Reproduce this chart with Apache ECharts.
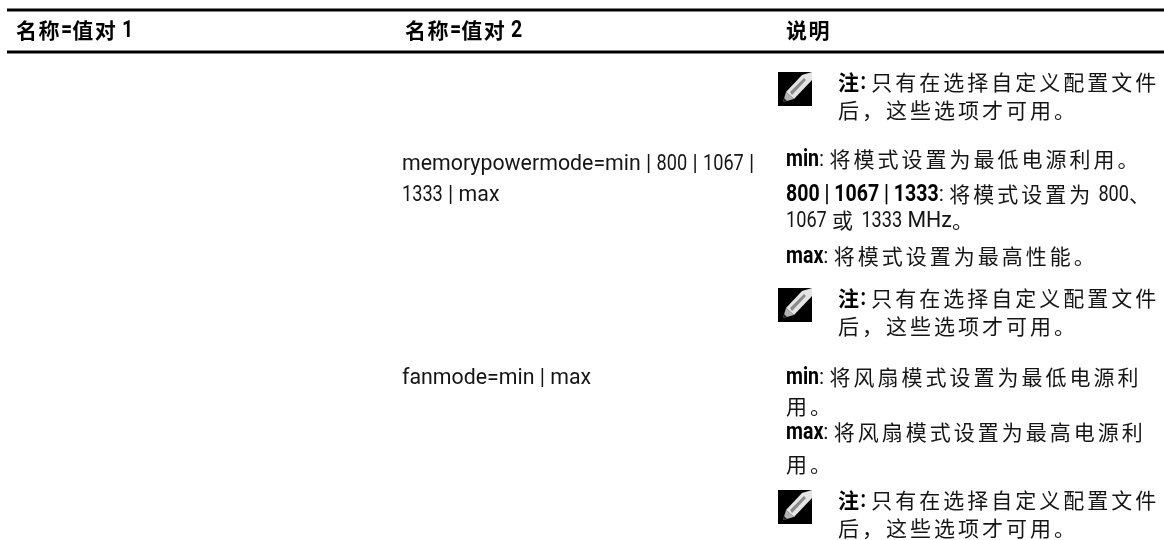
<!DOCTYPE html>
<html><head><meta charset="utf-8">
<style>html,body{margin:0;padding:0;background:#fff}#c{width:1164px;height:540px}</style>
<script src="https://cdn.jsdelivr.net/npm/echarts@6/dist/echarts.min.js"></script></head>
<body><div id="c"></div>
<script>
const headers = ['名称=值对 1', '名称=值对 2', '说明'];
const pair2Lines = ['memorypowermode=min | 800 | 1067 |', '1333 | max', 'fanmode=min | max'];
const noteLines = ['[注:] 只有在选择自定义配置文件', '后，这些选项才可用。'];
const descLines = [
  '[min]: 将模式设置为最低电源利用。',
  '[800 | 1067 | 1333]: 将模式设置为 800、',
  '1067 或 1333 MHz。',
  '[max]: 将模式设置为最高性能。',
  '[min]: 将风扇模式设置为最低电源利',
  '用。',
  '[max]: 将风扇模式设置为最高电源利',
  '用。'
];

const LATIN='Roboto', CJK='"Noto Sans CJK SC"';
const FS=22, BOLD_FS=23, REG_SCALE=0.97, DIGIT_SCALE=0.825, BOLD_SCALE=0.85;
const CJK_FS=21, PITCH=24, BOLD_PITCH=22.5, CJK_DY=-1;
const COLOR='#151515', BOLD_COLOR='#000';
const meas=document.createElement('canvas').getContext('2d');

// CJK glyphs in the reference are set with wide tracking, Latin glyphs are condensed.
const ofill=CanvasRenderingContext2D.prototype.fillText;
CanvasRenderingContext2D.prototype.fillText=function(t,x,y,m){
  if('letterSpacing' in this){
    const isCjk=this.font.indexOf('CJK')>=0, isBold=/bold|700/.test(this.font);
    const p=isBold?BOLD_PITCH:PITCH;
    this.letterSpacing=isCjk?(p-parseFloat(this.font.match(/([\d.]+)px/)[1]))+'px':'0px';
  }
  return m===undefined?ofill.call(this,t,x,y):ofill.call(this,t,x,y,m);
};
const CJK_RE=/[\u3000-\u9fff\uff00-\uffef]/;
function parseRuns(line,forceBold){
  const runs=[];
  line.split(/(\[[^\]]*\])/).filter(Boolean).forEach(seg=>{
    const marked=seg[0]==='[';
    const bold=marked||forceBold;
    const body=marked?seg.slice(1,-1):seg;
    (body.match(/[\u3000-\u9fff\uff00-\uffef]+|[^\u3000-\u9fff\uff00-\uffef]+/g)||[]).forEach(t=>{
      if(CJK_RE.test(t)) runs.push({t,bold,kind:'cjk'});
      else if(bold) runs.push({t,bold,kind:'latin'});
      else t.split(/(\d+)/).filter(Boolean).forEach(p=>runs.push({t:p,bold,kind:/^\d/.test(p)?'digit':'latin'}));
    });
  });
  return runs;
}
function lineEls(x,y,line,forceBold){
  const out=[];let cx=x;
  parseRuns(line,forceBold).forEach(r=>{
    const weight=r.bold?'bold':'normal', fill=r.bold?BOLD_COLOR:COLOR;
    if(r.kind==='cjk'){
      out.push({type:'text',x:cx,y:y+CJK_DY,silent:true,style:{text:r.t,fill,font:`${weight} ${CJK_FS}px ${CJK}`,verticalAlign:'middle',align:'left'}});
      cx+=[...r.t].length*(r.bold?BOLD_PITCH:PITCH);
    }else{
      const s=r.bold?BOLD_SCALE:(r.kind==='digit'?DIGIT_SCALE:REG_SCALE);
      const font=`${weight} ${r.bold?BOLD_FS:FS}px ${LATIN}`;
      meas.font=font;
      const w=meas.measureText(r.t).width*s;
      out.push({type:'text',x:cx,y,scaleX:s,silent:true,style:{text:r.t,fill,font,verticalAlign:'middle',align:'left'}});
      cx+=w;
    }
  });
  return out;
}
function rule(y){return {type:'rect',shape:{x:7,y:y-1.5,width:1157,height:3},style:{fill:'#000'},silent:true};}
function icon(x,y){
  return {type:'group',x,y,silent:true,children:[
    {type:'rect',shape:{x:0,y:0,width:34,height:34},style:{fill:'#000'}},
    {type:'polygon',shape:{points:[[8,20],[24,3],[34,0],[34,8],[16,27]]},style:{fill:'#e4e4e4'}},
    {type:'polygon',shape:{points:[[12,20],[26,6],[28,8],[14,23]]},style:{fill:'#8a8a8a'}},
    {type:'polygon',shape:{points:[[5,30],[8,20],[16,27]]},style:{fill:'#b4b4b4'}},
    {type:'polygon',shape:{points:[[5,30],[6,26],[9,29]]},style:{fill:'#222'}}
  ]};
}
const headX=[16,405,786], headY=31;
const noteX=838, noteYs=[83,299,501], noteDy=28, iconX=778, iconYs=[72,288,490];
const pairX=402, pairYs=[164,195,378];
const descX=786, descYs=[160,195,221,257,378,407,433,465];
const els=[rule(10),rule(52)];
headers.forEach((h,i)=>els.push(...lineEls(headX[i],headY,h,true)));
pair2Lines.forEach((t,i)=>els.push(...lineEls(pairX,pairYs[i],t)));
descLines.forEach((t,i)=>els.push(...lineEls(descX,descYs[i],t)));
noteYs.forEach((y,i)=>{
  els.push(icon(iconX,iconYs[i]),...lineEls(noteX,y,noteLines[0]),...lineEls(noteX,y+noteDy,noteLines[1]));
});
const chart=echarts.init(document.getElementById('c'),null,{renderer:'canvas'});
chart.setOption({animation:false,backgroundColor:'#fff',graphic:{elements:els}});
</script></body></html>
